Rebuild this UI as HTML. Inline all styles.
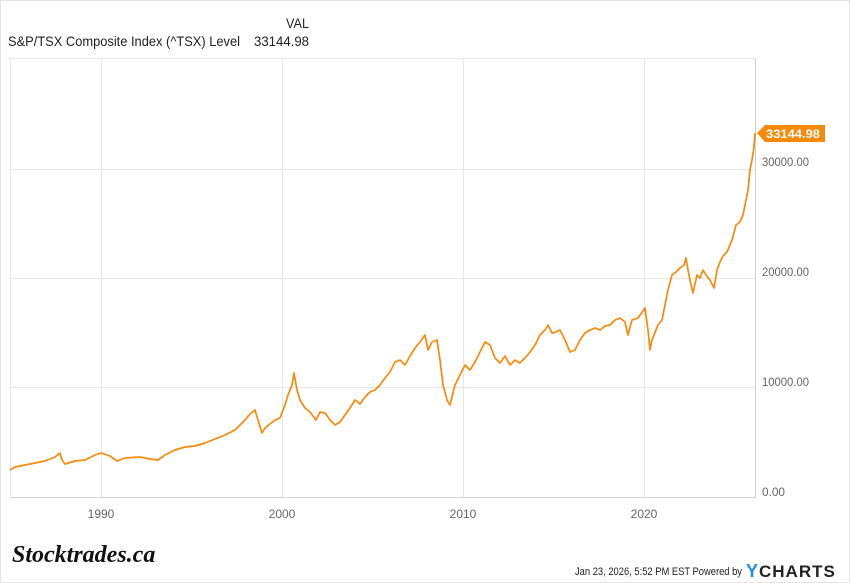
<!DOCTYPE html>
<html><head><style>
body{margin:0;background:#fff;}
svg{display:block;font-family:"Liberation Sans",sans-serif;}
</style></head><body>
<svg width="850" height="583" viewBox="0 0 850 583">
<rect x="0.5" y="0.5" width="849" height="582" fill="#fff" stroke="#e4e4e4"/>
<text x="286" y="28" font-size="14" fill="#222" textLength="23" lengthAdjust="spacingAndGlyphs">VAL</text>
<text x="8" y="46" font-size="14" fill="#222" textLength="232" lengthAdjust="spacingAndGlyphs">S&amp;P/TSX Composite Index (^TSX) Level</text>
<text x="254" y="46" font-size="14" fill="#222" textLength="55" lengthAdjust="spacingAndGlyphs">33144.98</text>
<g stroke="#e6e6e6" stroke-width="1">
<line x1="10" y1="58.5" x2="755" y2="58.5"/>
<line x1="10" y1="169.5" x2="755" y2="169.5"/>
<line x1="10" y1="278.5" x2="755" y2="278.5"/>
<line x1="10" y1="387.5" x2="755" y2="387.5"/>
<line x1="10.5" y1="58" x2="10.5" y2="497"/>
<line x1="101.5" y1="58" x2="101.5" y2="497"/>
<line x1="282.5" y1="58" x2="282.5" y2="497"/>
<line x1="463.5" y1="58" x2="463.5" y2="497"/>
<line x1="644.5" y1="58" x2="644.5" y2="497"/>
<line x1="755.5" y1="58" x2="755.5" y2="497" stroke="#d0d0d0"/>
</g>
<line x1="10" y1="497.5" x2="756" y2="497.5" stroke="#d0d0d0"/>
<g font-size="12" fill="#666">
<text x="762" y="166" textLength="47" lengthAdjust="spacingAndGlyphs">30000.00</text>
<text x="762" y="276" textLength="47" lengthAdjust="spacingAndGlyphs">20000.00</text>
<text x="762" y="386" textLength="47" lengthAdjust="spacingAndGlyphs">10000.00</text>
<text x="762" y="496" textLength="23" lengthAdjust="spacingAndGlyphs">0.00</text>
</g>
<g font-size="12" fill="#666" text-anchor="middle">
<text x="101" y="518">1990</text>
<text x="282" y="518">2000</text>
<text x="463" y="518">2010</text>
<text x="644" y="518">2020</text>
</g>
<polyline fill="none" stroke="#f58a0b" stroke-width="1.7" stroke-linejoin="round" points="10,470 15,467 25,465 35,463 45,461 55,457 60,453 62,460 65,464 75,461 85,460 95,455 101,453 110,456 117,461 125,458 140,457 150,459 158,460 165,455 175,450 185,447 195,446 205,443 215,439 225,435 235,430 245,420 250,414 255,410 258,420 262,433 265,428 275,420 280,418 285,405 288,395 292,385 294,373 297,390 300,400 305,408 310,412 316,420 320,412 325,413 330,420 335,425 340,422 345,415 350,408 355,400 360,404 365,397 370,392 375,390 380,385 385,378 390,372 395,362 400,360 405,365 410,356 415,348 420,342 425,335 428,350 432,342 437,340 440,360 443,385 447,400 450,405 455,385 460,375 465,365 470,370 475,362 480,352 485,342 490,345 495,358 500,363 505,356 510,365 515,360 520,363 525,358 530,352 535,345 540,335 545,330 548,325 552,333 556,332 560,330 565,340 570,352 575,350 580,340 585,333 590,330 595,328 600,330 605,326 610,325 615,320 620,318 625,322 628,335 632,320 638,318 645,308 648,330 650,350 652,340 658,325 662,320 665,305 668,290 672,275 676,272 680,268 684,265 686,258 688,270 690,280 693,293 697,275 700,278 703,270 706,275 710,280 714,288 717,270 720,262 723,256 727,252 732,240 736,225 740,222 743,215 745,205 748,190 750,170 752,160 754,147 755,133"/>
<path d="M757,133 L765,125 L825,125 L825,142 L765,142 Z" fill="#f58a0b"/>
<text x="766" y="138" font-size="12" font-weight="bold" fill="#fff" textLength="54" lengthAdjust="spacingAndGlyphs">33144.98</text>
<text x="12" y="562" font-size="24" font-weight="bold" font-style="italic" font-family="'Liberation Serif',serif" fill="#111">Stocktrades.ca</text>
<text x="742" y="575" font-size="11" text-anchor="end" fill="#222" textLength="167" lengthAdjust="spacingAndGlyphs">Jan 23, 2026, 5:52 PM EST Powered by</text>
<text x="746" y="577" font-size="18" font-weight="bold" fill="#1a8fdb">Y</text>
<text x="759" y="577" font-size="17" font-weight="bold" fill="#222" letter-spacing="1">CHARTS</text>
</svg>
</body></html>
